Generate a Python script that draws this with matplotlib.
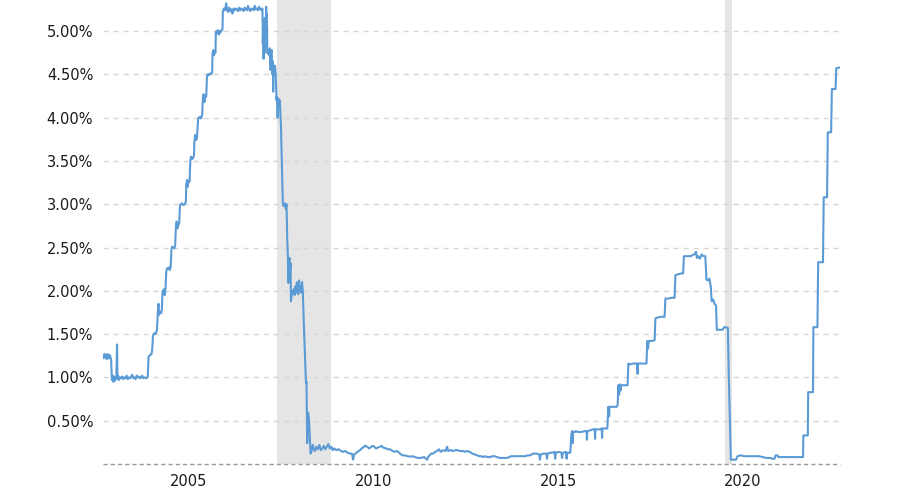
import matplotlib
matplotlib.use("Agg")
import matplotlib.pyplot as plt

# Effective federal funds rate (%): (decimal year, rate)
fed_funds = [
    (2003.27, 1.25), (2003.29, 1.22), (2003.31, 1.27), (2003.33, 1.24), (2003.35, 1.26),
    (2003.37, 1.21), (2003.39, 1.27), (2003.41, 1.25), (2003.43, 1.22), (2003.45, 1.26),
    (2003.47, 1.24), (2003.49, 1.20), (2003.51, 0.97), (2003.53, 1.02), (2003.55, 0.95),
    (2003.57, 1.01), (2003.59, 0.96), (2003.61, 1.00), (2003.63, 0.98), (2003.65, 1.38),
    (2003.66, 0.99), (2003.68, 1.02), (2003.70, 0.97), (2003.73, 1.00), (2003.76, 0.99),
    (2003.79, 1.01), (2003.82, 0.98), (2003.85, 1.00), (2003.88, 0.99), (2003.91, 1.02),
    (2003.94, 0.98), (2003.97, 1.00), (2004.00, 0.99), (2004.03, 1.01), (2004.06, 1.03),
    (2004.09, 0.99), (2004.12, 1.00), (2004.15, 0.98), (2004.18, 1.02), (2004.21, 1.00),
    (2004.24, 1.01), (2004.27, 0.99), (2004.30, 1.00), (2004.33, 1.02), (2004.36, 0.99),
    (2004.40, 1.00), (2004.44, 0.99), (2004.48, 1.01),
    (2004.50, 1.23), (2004.52, 1.25), (2004.55, 1.26), (2004.58, 1.27), (2004.60, 1.32),
    (2004.62, 1.48), (2004.65, 1.51), (2004.68, 1.50), (2004.71, 1.52), (2004.73, 1.56),
    (2004.75, 1.74), (2004.77, 1.85), (2004.78, 1.72), (2004.81, 1.76), (2004.84, 1.74),
    (2004.86, 1.78), (2004.88, 2.00), (2004.90, 1.99), (2004.92, 2.02), (2004.94, 1.95),
    (2004.96, 2.03), (2004.98, 2.22), (2005.00, 2.26), (2005.03, 2.25), (2005.06, 2.27),
    (2005.08, 2.24), (2005.10, 2.28), (2005.12, 2.48), (2005.14, 2.51), (2005.17, 2.50),
    (2005.20, 2.49), (2005.22, 2.52), (2005.24, 2.74), (2005.26, 2.80), (2005.28, 2.72),
    (2005.31, 2.76), (2005.33, 2.78), (2005.35, 2.98), (2005.37, 3.00), (2005.40, 3.01),
    (2005.44, 2.99), (2005.48, 3.00), (2005.51, 3.03), (2005.52, 3.22), (2005.54, 3.28),
    (2005.56, 3.20), (2005.58, 3.27), (2005.61, 3.26), (2005.63, 3.50), (2005.65, 3.55),
    (2005.67, 3.52), (2005.70, 3.53), (2005.73, 3.56), (2005.74, 3.72), (2005.76, 3.80),
    (2005.78, 3.74), (2005.81, 3.76), (2005.84, 3.98), (2005.86, 4.00), (2005.89, 4.01),
    (2005.92, 3.99), (2005.95, 4.03), (2005.97, 4.22), (2005.99, 4.27), (2006.01, 4.18),
    (2006.03, 4.25), (2006.06, 4.24), (2006.08, 4.47), (2006.10, 4.50), (2006.13, 4.49),
    (2006.16, 4.51), (2006.19, 4.50), (2006.22, 4.52), (2006.23, 4.74), (2006.25, 4.78),
    (2006.27, 4.72), (2006.29, 4.77), (2006.31, 4.75), (2006.32, 4.98), (2006.34, 5.00),
    (2006.36, 4.97), (2006.38, 5.01), (2006.41, 4.96), (2006.43, 5.00), (2006.46, 4.99),
    (2006.48, 5.01), (2006.50, 5.02), (2006.51, 5.23),
    (2006.54, 5.26), (2006.57, 5.24), (2006.60, 5.32), (2006.62, 5.25), (2006.65, 5.22),
    (2006.68, 5.27), (2006.71, 5.23), (2006.74, 5.25), (2006.77, 5.20), (2006.80, 5.26),
    (2006.83, 5.24), (2006.86, 5.26), (2006.89, 5.25), (2006.92, 5.23), (2006.95, 5.27),
    (2006.98, 5.24), (2007.01, 5.26), (2007.04, 5.25), (2007.07, 5.23), (2007.10, 5.27),
    (2007.13, 5.25), (2007.16, 5.24), (2007.19, 5.29), (2007.22, 5.25), (2007.25, 5.23),
    (2007.28, 5.26), (2007.31, 5.25), (2007.34, 5.24), (2007.37, 5.29), (2007.40, 5.25),
    (2007.43, 5.26), (2007.46, 5.24), (2007.49, 5.28), (2007.52, 5.25), (2007.55, 5.24),
    (2007.58, 5.26), (2007.59, 4.85), (2007.60, 5.10), (2007.61, 4.68), (2007.62, 5.00),
    (2007.63, 4.90), (2007.64, 5.15), (2007.65, 4.75), (2007.66, 5.05), (2007.67, 4.95),
    (2007.68, 5.28), (2007.69, 5.00), (2007.70, 5.20), (2007.71, 4.80),
    (2007.72, 4.74), (2007.74, 4.78), (2007.76, 4.72), (2007.78, 4.80), (2007.80, 4.55),
    (2007.81, 4.75), (2007.83, 4.78), (2007.84, 4.60),
    (2007.85, 4.50), (2007.86, 4.65), (2007.87, 4.30), (2007.88, 4.55), (2007.90, 4.50),
    (2007.92, 4.60), (2007.94, 4.48),
    (2007.96, 4.20), (2007.97, 4.24), (2007.99, 4.00), (2008.01, 4.22), (2008.03, 4.15),
    (2008.05, 4.20), (2008.08, 3.90), (2008.13, 3.02), (2008.15, 2.98), (2008.17, 3.00),
    (2008.19, 3.01), (2008.21, 2.95), (2008.23, 3.00), (2008.25, 2.60), (2008.27, 2.36),
    (2008.28, 2.09), (2008.29, 2.30), (2008.31, 2.38), (2008.32, 2.20), (2008.34, 2.32),
    (2008.35, 1.88), (2008.37, 1.95), (2008.39, 2.00), (2008.41, 1.97), (2008.43, 2.02),
    (2008.45, 1.95), (2008.47, 2.05), (2008.49, 1.98), (2008.51, 2.10), (2008.53, 2.00),
    (2008.55, 1.96), (2008.57, 2.12), (2008.59, 2.00), (2008.61, 2.05), (2008.63, 1.98),
    (2008.65, 2.10), (2008.67, 2.00), (2008.70, 1.60), (2008.74, 1.12), (2008.75, 1.00),
    (2008.76, 0.93), (2008.77, 0.95), (2008.78, 0.55), (2008.79, 0.24), (2008.80, 0.60),
    (2008.82, 0.58), (2008.84, 0.50), (2008.86, 0.30), (2008.88, 0.12),
    (2008.91, 0.15), (2008.94, 0.22), (2008.97, 0.18), (2009.00, 0.15), (2009.04, 0.20),
    (2009.08, 0.17), (2009.12, 0.22), (2009.16, 0.16), (2009.20, 0.18), (2009.24, 0.21),
    (2009.28, 0.17), (2009.32, 0.20), (2009.36, 0.23), (2009.40, 0.18), (2009.44, 0.20),
    (2009.48, 0.16), (2009.52, 0.18), (2009.58, 0.16), (2009.64, 0.17), (2009.70, 0.15),
    (2009.76, 0.14), (2009.82, 0.15), (2009.88, 0.13), (2009.95, 0.12), (2010.00, 0.12),
    (2010.03, 0.05), (2010.06, 0.11), (2010.12, 0.13), (2010.18, 0.15), (2010.22, 0.16),
    (2010.26, 0.18), (2010.30, 0.19), (2010.35, 0.21), (2010.41, 0.20), (2010.46, 0.18),
    (2010.50, 0.19), (2010.55, 0.21), (2010.60, 0.20), (2010.65, 0.18), (2010.70, 0.19),
    (2010.76, 0.20), (2010.80, 0.21), (2010.84, 0.19), (2010.92, 0.18), (2010.97, 0.17),
    (2011.03, 0.17), (2011.10, 0.15), (2011.15, 0.14), (2011.22, 0.15), (2011.30, 0.12),
    (2011.36, 0.10), (2011.42, 0.10), (2011.50, 0.09), (2011.57, 0.085), (2011.63, 0.09),
    (2011.70, 0.08), (2011.78, 0.07), (2011.85, 0.07), (2011.95, 0.08), (2012.03, 0.05),
    (2012.07, 0.09), (2012.10, 0.10), (2012.14, 0.12), (2012.19, 0.12), (2012.25, 0.14),
    (2012.30, 0.15), (2012.35, 0.17), (2012.40, 0.14), (2012.46, 0.16), (2012.53, 0.15),
    (2012.57, 0.20), (2012.60, 0.15), (2012.66, 0.16), (2012.73, 0.15), (2012.80, 0.16),
    (2012.85, 0.16), (2012.92, 0.15), (2013.00, 0.15), (2013.06, 0.14), (2013.10, 0.15),
    (2013.19, 0.14), (2013.25, 0.12), (2013.32, 0.11), (2013.38, 0.10), (2013.45, 0.09),
    (2013.50, 0.09), (2013.55, 0.08), (2013.60, 0.09), (2013.66, 0.08), (2013.73, 0.08),
    (2013.80, 0.09), (2013.85, 0.09), (2013.92, 0.08), (2014.00, 0.07), (2014.08, 0.07),
    (2014.19, 0.07), (2014.25, 0.08), (2014.30, 0.09), (2014.38, 0.09), (2014.46, 0.09),
    (2014.55, 0.09), (2014.60, 0.09), (2014.68, 0.09), (2014.75, 0.10), (2014.82, 0.10),
    (2014.89, 0.12), (2014.95, 0.12), (2015.00, 0.12), (2015.06, 0.11), (2015.08, 0.05),
    (2015.10, 0.11), (2015.18, 0.12), (2015.25, 0.12), (2015.27, 0.06), (2015.29, 0.12),
    (2015.35, 0.13), (2015.42, 0.13), (2015.48, 0.14), (2015.49, 0.06), (2015.51, 0.13),
    (2015.60, 0.14), (2015.66, 0.13), (2015.68, 0.07), (2015.70, 0.13), (2015.78, 0.14),
    (2015.80, 0.06), (2015.82, 0.13), (2015.90, 0.13),
    (2015.93, 0.35), (2015.95, 0.38), (2015.96, 0.24), (2015.97, 0.36), (2015.99, 0.37),
    (2016.03, 0.37), (2016.05, 0.38), (2016.10, 0.37), (2016.20, 0.37), (2016.30, 0.38),
    (2016.34, 0.38), (2016.35, 0.28), (2016.36, 0.38), (2016.45, 0.39), (2016.50, 0.40),
    (2016.56, 0.40), (2016.57, 0.29), (2016.58, 0.40), (2016.70, 0.40), (2016.75, 0.41),
    (2016.76, 0.30), (2016.77, 0.41), (2016.90, 0.41),
    (2016.93, 0.66), (2016.95, 0.55), (2016.96, 0.66), (2017.05, 0.66), (2017.15, 0.66),
    (2017.18, 0.68), (2017.20, 0.91), (2017.22, 0.80), (2017.24, 0.92), (2017.26, 0.85),
    (2017.28, 0.91), (2017.35, 0.91), (2017.45, 0.91), (2017.47, 1.16), (2017.50, 1.15),
    (2017.60, 1.16), (2017.70, 1.16), (2017.72, 1.04), (2017.73, 1.16), (2017.85, 1.16),
    (2017.96, 1.16), (2017.98, 1.42), (2018.00, 1.33), (2018.02, 1.42), (2018.10, 1.42),
    (2018.18, 1.43), (2018.20, 1.68), (2018.25, 1.69), (2018.35, 1.70), (2018.45, 1.70),
    (2018.47, 1.91), (2018.55, 1.91), (2018.65, 1.92), (2018.72, 1.92), (2018.74, 2.18),
    (2018.80, 2.19), (2018.90, 2.20), (2018.95, 2.20), (2018.97, 2.40), (2019.05, 2.40),
    (2019.15, 2.40), (2019.25, 2.42), (2019.30, 2.45), (2019.32, 2.38), (2019.36, 2.40),
    (2019.40, 2.37), (2019.45, 2.42), (2019.50, 2.40), (2019.55, 2.40), (2019.58, 2.13),
    (2019.62, 2.12), (2019.66, 2.14), (2019.70, 2.04), (2019.72, 1.88), (2019.76, 1.90),
    (2019.80, 1.85), (2019.84, 1.83), (2019.86, 1.55), (2019.95, 1.55), (2020.02, 1.55),
    (2020.06, 1.58), (2020.10, 1.58), (2020.16, 1.57), (2020.18, 1.10), (2020.24, 0.05),
    (2020.30, 0.05), (2020.38, 0.05), (2020.42, 0.09), (2020.50, 0.10), (2020.60, 0.09),
    (2020.70, 0.09), (2020.80, 0.09), (2020.90, 0.09), (2021.00, 0.09), (2021.10, 0.08),
    (2021.20, 0.07), (2021.30, 0.07), (2021.38, 0.06), (2021.42, 0.06), (2021.45, 0.10),
    (2021.50, 0.10), (2021.52, 0.08), (2021.60, 0.08), (2021.70, 0.08), (2021.80, 0.08),
    (2021.90, 0.08), (2022.00, 0.08), (2022.10, 0.08), (2022.19, 0.08),
    (2022.20, 0.33), (2022.32, 0.33), (2022.33, 0.83), (2022.46, 0.83), (2022.47, 1.58),
    (2022.58, 1.58), (2022.60, 2.33), (2022.73, 2.33), (2022.75, 3.08), (2022.84, 3.08),
    (2022.86, 3.83), (2022.95, 3.83), (2022.97, 4.33), (2023.07, 4.33), (2023.09, 4.57),
    (2023.19, 4.58),
]
years = [p[0] for p in fed_funds]
rates = [p[1] for p in fed_funds]

# Recession periods (decimal years)
recessions = [(2007.96, 2009.44), (2020.09, 2020.26)]

# Axis ticks
y_ticks = [0.5, 1.0, 1.5, 2.0, 2.5, 3.0, 3.5, 4.0, 4.5, 5.0]
y_labels = ["0.50%", "1.00%", "1.50%", "2.00%", "2.50%", "3.00%", "3.50%", "4.00%", "4.50%", "5.00%"]
x_tick_years = [2005, 2010, 2015, 2020]
x_labels = ["2005", "2010", "2015", "2020"]

fig = plt.figure(figsize=(9.0, 4.91), dpi=100)
ax = fig.add_axes([103 / 900, 27 / 491, 737 / 900, 464 / 491])

for a, b in recessions:
    ax.axvspan(a, b, color="#e5e5e5", lw=0, zorder=0)

for t in y_ticks:
    ax.axhline(t, color="#d6d6d6", lw=1.0, ls=(0, (3.8, 3.4)), zorder=1)
ax.axhline(0, color="#999999", lw=1.0, ls=(0, (3.0, 2.2)), zorder=1, clip_on=False)

ax.plot(years, rates, color="#5b9bd5", lw=1.5, zorder=3, solid_joinstyle="round")

ax.set_xlim(2003.27, 2023.19)
ax.set_ylim(0, 5.358)

ax.set_yticks(y_ticks)
ax.set_yticklabels(y_labels)
ax.set_xticks([y + 0.57 for y in x_tick_years])
ax.set_xticklabels(x_labels)
ax.tick_params(axis="both", length=0, labelsize=10.5, colors="#1a1a1a")
ax.tick_params(axis="y", pad=7)
ax.tick_params(axis="x", pad=7)

for s in ax.spines.values():
    s.set_visible(False)
ax.set_facecolor("white")

fig.savefig("out.png", dpi=100, facecolor="white")
